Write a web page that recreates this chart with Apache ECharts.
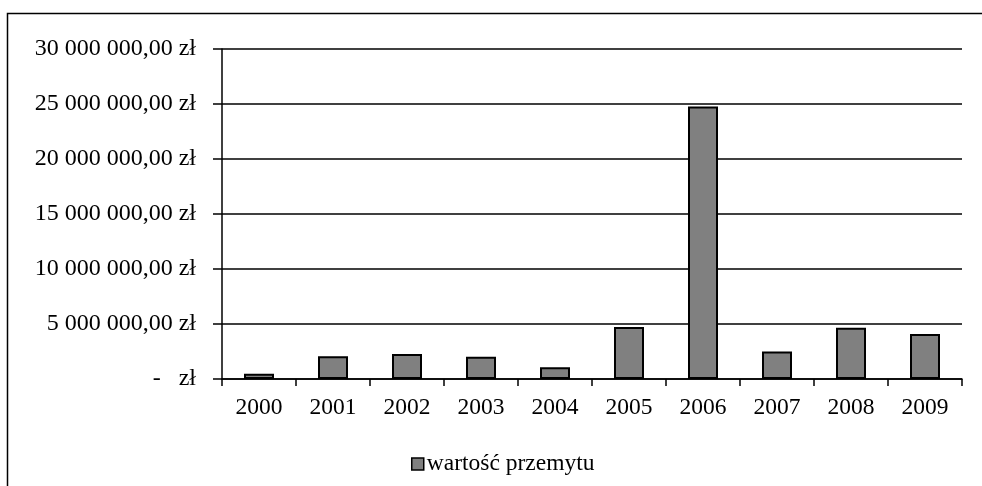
<!DOCTYPE html>
<html>
<head>
<meta charset="utf-8">
<script src="https://cdn.jsdelivr.net/npm/echarts@6/dist/echarts.min.js"></script>
<style>
  html, body { margin: 0; padding: 0; background: #fff; }
  #main { width: 982px; height: 486px; }
</style>
</head>
<body>
<div id="main"></div>
<script>
var years = ['2000', '2001', '2002', '2003', '2004', '2005', '2006', '2007', '2008', '2009']
var values = [480000, 2060000, 2270000, 2030000, 1060000, 4730000, 24780000, 2510000, 4660000, 4090000]
var seriesName = 'wartość przemytu'

function formatZl(v) {
  if (v === 0) return '-   zł'
  var s = String(Math.round(v)).replace(/\B(?=(\d{3})+(?!\d))/g, ' ')
  return s + ',00 zł'
}

var myChart = echarts.init(document.getElementById('main'))
var font = '"Liberation Serif", "Times New Roman", serif'
var option = {
  animation: false,
  textStyle: { fontFamily: font },
  graphic: [{
    type: 'rect',
    shape: { x: 7.5, y: 13.5, width: 1000, height: 500 },
    style: { fill: 'none', stroke: '#000', lineWidth: 1.5 }
  }],
  grid: { left: 222, right: 20, top: 49, bottom: 107 },
  legend: {
    top: 447,
    left: 406,
    icon: 'rect',
    itemWidth: 12,
    itemHeight: 12,
    itemGap: 4,
    itemStyle: { borderColor: '#000', borderWidth: 1.5 },
    textStyle: { fontFamily: font, fontSize: 23.5, color: '#000', padding: [0, 0, 0, -2] },
    data: [seriesName]
  },
  xAxis: {
    type: 'category',
    data: years,
    axisLine: { lineStyle: { color: '#000', width: 1.5 } },
    axisTick: { show: true, length: 7, interval: 0, lineStyle: { color: '#000', width: 1.5 } },
    axisLabel: { color: '#000', fontSize: 23.5, margin: 17, fontFamily: font }
  },
  yAxis: {
    type: 'value',
    min: 0,
    max: 30000000,
    interval: 5000000,
    axisLine: { show: true, lineStyle: { color: '#000', width: 1.5 } },
    axisTick: { show: true, length: 9, lineStyle: { color: '#000', width: 1.5 } },
    splitLine: { lineStyle: { color: '#000', width: 1.5 } },
    axisLabel: { color: '#000', fontSize: 24, margin: 26, fontFamily: font, formatter: formatZl }
  },
  series: [{
    name: seriesName,
    type: 'bar',
    data: values,
    barWidth: 30,
    itemStyle: { color: '#808080', borderColor: '#000', borderWidth: 2 }
  }]
}
myChart.setOption(option)
</script>
</body>
</html>
